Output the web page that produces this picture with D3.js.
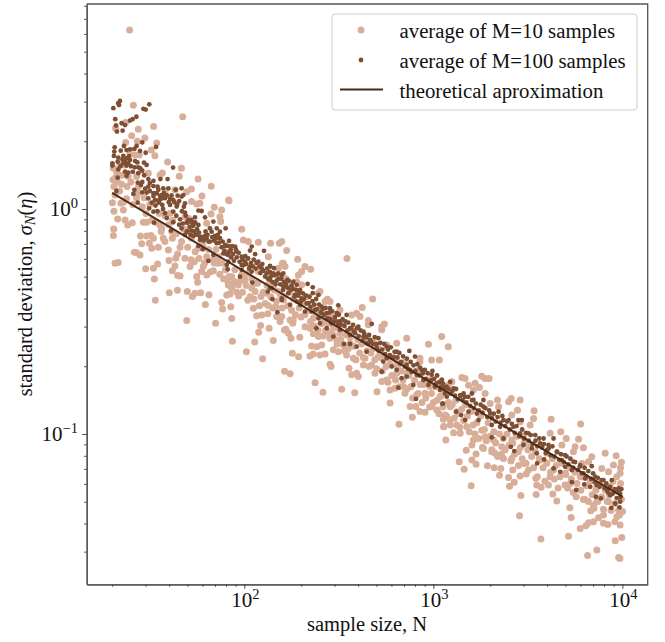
<!DOCTYPE html>
<html><head><meta charset="utf-8">
<script src="https://cdn.jsdelivr.net/npm/d3@7"></script>
<style>html,body{margin:0;padding:0;background:#fff}svg{display:block;font-family:"Liberation Serif",serif}</style>
</head><body><div id="c"></div>
<script>
// values, as [log10 N, log10 sigma]
const m10Points=[[1.393,.796],[1.413,.461],[1.674,.410],[1.520,.367],[1.439,.354],[1.319,.359],[1.372,.384],[1.404,.325],[1.474,.316],[1.372,.295],[1.434,.301],[1.536,.293],[1.508,.262],[1.527,.237],[1.395,.247],[1.422,.240],[1.444,.240],[1.594,.209],[1.667,.181],[1.342,.196],[1.307,.181],[1.325,.166],[1.369,.196],[1.386,.144],[1.351,.110],[1.430,.144],[1.656,.145],[1.566,.160],[1.554,.151],[1.492,.159],[1.755,.133],[1.825,.101],[1.720,.089],[1.695,.077],[1.776,.058],[1.917,.040],[1.633,.085],[1.580,.077],[1.439,.070],[1.316,.062],[1.377,.045],
[1.302,.028],[1.347,.025],[1.360,-.004],[1.330,-.044],[1.369,-.049],[1.383,-.071],[1.407,-.061],[1.466,-.059],[1.483,-.059],[1.309,-.089],[1.307,-.118],[1.450,-.120],[1.483,-.120],[1.506,-.118],[1.519,-.130],[1.457,-.155],[1.497,-.152],[1.510,-.175],[1.545,-.170],[1.571,-.130],[1.580,-.145],[1.619,-.130],[1.598,-.182],[1.418,-.192],[1.448,-.204],[1.430,-.194],[1.316,-.241],[1.333,-.238],[1.647,-.200],[1.637,-.219],[1.601,-.229],[1.541,-.244],[1.519,-.263],[1.478,-.266],[1.633,-.253],[1.619,-.274],[1.686,-.219],[1.718,-.226],[1.735,-.234],[1.713,-.256],[1.660,-.298],[1.647,-.296],[1.524,-.311],[1.783,-.256],[1.774,-.278],[1.748,-.300],[1.753,-.326],[1.801,-.293],[1.836,-.274],[1.859,-.241],[1.603,-.372],[1.646,-.361],[1.698,-.367],[1.739,-.375],[1.725,-.389],[1.769,-.372],[1.813,-.381],[1.529,-.406],[1.794,-.424],[1.880,-.416],[1.885,-.444],[1.928,-.435],[1.695,-.496],[1.848,-.508],[1.933,-.487],[1.937,-.588],[2.055,-.591],[2.153,-.585],[2.011,-.634],[2.097,-.666],[2.076,-.548],[2.086,-.518],[2.131,-.530],[2.212,-.538],[1.915,-.338],[1.933,-.352],[1.968,-.338],[1.907,-.382],[1.924,-.378],[1.970,-.387],[2.018,-.406],[2.048,-.441],[2.065,-.475],[2.092,-.471],[2.124,-.466],[2.127,-.429],[2.166,-.434],[2.171,-.478],[2.198,-.478],[2.189,-.500],[2.088,-.389],[2.057,-.367],[2.039,-.352],[2.004,-.315],[1.951,-.323],[1.986,-.293],[1.907,-.315],
[1.748,.022],[1.765,.025],[1.721,.033],[1.919,.037],[1.841,.008],[1.880,-.004],[1.824,-.022],[1.871,-.034],[1.875,-.056],[1.801,-.063],[1.986,-.090],[1.995,-.138],[2.021,-.145],[2.074,-.148],[2.139,-.152],[2.198,-.145],[2.206,-.241],[2.127,-.212],[1.686,-.034],[1.704,-.041],[1.607,-.019],[1.554,-.071],[1.563,-.086],[1.616,-.100],[1.668,-.145],[1.757,-.175],[1.801,-.212],[1.836,-.226],[1.863,-.212],[1.933,-.301],[2.021,-.286],[2.074,-.278],[2.057,-.330],[2.136,-.330],[2.118,-.375],[2.180,-.367],[2.206,-.404],
[2.543,-.220],[2.282,-.223],[2.224,-.185],[2.185,-.152],[2.201,-.241],[2.215,-.256],[2.180,-.263],[2.351,-.268],[2.321,-.256],[2.303,-.278],[2.286,-.293],[2.277,-.323],[2.679,-.400],[2.624,-.438],[2.439,-.401],[2.400,-.367],[2.427,-.411],[2.656,-.496],[2.741,-.511],[2.727,-.537],[2.859,-.574],[2.974,-.601],[3.044,-.567],[3.079,-.612],[3.032,-.671],[2.929,-.663],[2.806,-.597],[2.753,-.604],[2.612,-.478],[2.594,-.463],[2.568,-.471],
[2.242,-.493],[2.259,-.493],[2.256,-.508],[2.220,-.534],[2.233,-.552],[2.247,-.574],[2.293,-.570],[2.321,-.523],[2.347,-.530],[2.365,-.555],[2.392,-.567],[2.418,-.564],[2.453,-.574],[2.489,-.582],[2.356,-.609],[2.383,-.612],[2.409,-.604],[2.471,-.626],[2.497,-.634],[2.347,-.653],[2.365,-.644],[2.400,-.649],[2.427,-.644],[2.254,-.641],[2.287,-.657],[2.453,-.690],[2.459,-.700],[2.213,-.721],[2.242,-.732],[2.374,-.772],[2.416,-.815],[2.515,-.801],[2.584,-.817],[2.702,-.812],[2.554,-.708],[2.568,-.737],[2.594,-.730],[2.603,-.745],[2.630,-.693],[2.638,-.663],[2.674,-.693],[2.691,-.730],[2.727,-.767],[2.753,-.760],[2.771,-.804],[2.797,-.797],[2.841,-.789],[2.850,-.819],[2.771,-.862],[2.877,-.878],[2.907,-.878],[2.929,-.900],[2.956,-.903],[2.889,-.926],[2.818,-.957],[3.056,-.967],[3.053,-.934],[2.991,-.878],[3.018,-.893],[2.912,-.826],[2.956,-.819],[2.806,-.730],[2.541,-.649],[2.577,-.663],[2.524,-.604],[2.559,-.597],[2.506,-.552],[2.471,-.530],[2.444,-.508],[2.409,-.500],[2.365,-.486],[2.683,-.619],[2.709,-.656],[2.762,-.663],[2.806,-.678],[2.859,-.730],[2.929,-.730],[2.982,-.789],[3.035,-.834],[3.079,-.863],[3.079,-.782],[2.929,-.678],[2.991,-.671],[2.727,-.523],[2.656,-.515],[2.506,-.449],[2.453,-.411],[2.392,-.374],[2.303,-.337],
[3.256,-.743],[3.295,-.753],[3.151,-.749],[3.168,-.753],[3.274,-.753],[3.098,-.768],[3.186,-.783],[3.221,-.775],[3.244,-.793],[3.212,-.805],[3.274,-.820],[3.339,-.849],[3.301,-.864],[3.345,-.879],[3.412,-.842],[3.398,-.857],[3.459,-.849],[3.445,-.894],[3.533,-.897],[3.623,-.935],[3.779,-.956],[3.530,-.931],[3.512,-.960],[3.415,-.916],[3.459,-.946],[3.618,-.997],[3.674,-.990],[3.703,-1.020],[3.680,-1.049],[3.768,-1.023],[3.750,-1.057],[3.794,-1.061],[3.741,-1.079],[3.909,-1.086],[3.967,-1.097],[3.995,-1.126],[3.838,-1.101],[3.821,-1.123],[3.786,-1.131],[3.953,-1.138],[3.891,-1.153],[3.927,-1.168],[3.988,-1.175],[3.062,-.916],[3.054,-.968],[3.066,-1.027],[3.107,-.995],[3.142,-.997],[3.177,-.968],[3.089,-.938],[3.124,-.960],[3.256,-.983],[3.274,-1.012],[3.212,-1.027],[3.204,-1.049],[3.174,-1.072],[3.265,-1.064],[3.309,-1.079],[3.327,-1.086],[3.226,-1.089],[3.204,-1.116],[3.226,-1.135],[3.137,-1.123],[3.163,-1.157],[3.200,-1.230],[3.286,-1.141],[3.322,-1.150],[3.357,-1.153],[3.371,-1.109],[3.415,-1.109],[3.450,-1.079],[3.420,-1.160],[3.350,-1.183],[3.398,-1.193],[3.403,-1.232],[3.428,-1.215],[3.459,-1.187],[3.491,-1.178],[3.503,-1.160],[3.542,-1.197],[3.547,-1.227],[3.570,-1.237],[3.609,-1.227],[3.618,-1.190],[3.544,-1.269],[3.463,-1.273],[3.632,-1.267],[3.653,-1.298],[3.697,-1.227],[3.724,-1.220],[3.756,-1.279],[3.794,-1.291],[3.865,-1.301],[3.847,-1.316],[3.833,-1.341],[3.900,-1.335],[3.927,-1.301],[4.001,-1.344],[3.722,-1.328],[3.729,-1.371],[3.971,-1.368],[3.456,-1.363],[3.874,-1.372],[3.821,-1.395],[3.847,-1.390],[3.807,-1.408],[3.777,-1.420],[3.900,-1.397],[3.923,-1.402],[3.988,-1.405],[3.715,-1.454],[3.569,-1.467],[3.962,-1.475],[3.997,-1.460],[3.865,-1.516],[3.816,-1.540],[3.980,-1.549],[3.987,-1.553],[3.477,-1.131],[3.565,-1.116],[3.636,-1.160],[3.697,-1.175],[3.777,-1.190],[3.865,-1.235],[3.935,-1.235],[3.089,-.879],[3.124,-.901],[3.415,-1.027],[3.318,-1.027],[3.362,-1.057],[3.512,-1.057],[3.600,-1.086],[3.477,-1.012]];

// the crowded part of the M=10 cloud, where single points can only be estimated
const m10Crowd=[[1.31,.10],[1.32,.14],[1.34,.08],[1.35,.15],[1.36,.03],[1.38,.10],[1.40,.12],[1.41,.02],[1.43,.05],[1.44,.10],[1.46,.01],[1.47,.05],[1.48,-.02],[1.50,.02],[1.51,-.05],[1.53,.03],[1.535,-.06],[1.55,-.02],[1.56,-.10],[1.58,-.03],[1.60,-.07],[1.33,.12],[1.305,.13],[1.31,-.01],
[1.62,-.05],[1.64,-.11],[1.66,-.17],[1.68,-.09],[1.70,-.17],[1.72,-.13],[1.74,-.19],[1.76,-.22],[1.78,-.16],[1.79,-.24],[1.81,-.18],[1.82,-.28],[1.84,-.24],[1.85,-.18],[1.87,-.29],[1.88,-.24],[1.89,-.31],[1.90,-.27],[1.92,-.30],[1.94,-.33],[1.95,-.27],[1.96,-.37],[1.98,-.32],[1.99,-.37],[2.00,-.29],[2.01,-.34],[2.03,-.39],[2.04,-.31],[2.05,-.40],[2.07,-.33],[2.08,-.43],[2.10,-.37],[2.11,-.42],[2.12,-.34],[2.14,-.39],[2.15,-.44],[2.16,-.36],[2.17,-.41],[2.19,-.38],[2.20,-.44],[2.21,-.39],[2.22,-.31],[2.23,-.43],[2.24,-.37],[2.25,-.45],[2.26,-.40],[2.27,-.47],[2.28,-.38],[2.29,-.44],[2.30,-.48],[2.31,-.42],[2.32,-.47],[2.33,-.39],[2.34,-.45],[2.35,-.50],[2.36,-.44],[2.37,-.52],[2.38,-.47],[2.39,-.54],[2.40,-.45],[2.41,-.51],[2.42,-.47],[2.43,-.54],[2.44,-.49],[2.45,-.55],[2.46,-.48],[2.47,-.56],[2.48,-.51],[2.49,-.60],[2.50,-.53],[2.51,-.58],[2.52,-.50],[2.53,-.63],[2.54,-.56],[2.55,-.62],[2.56,-.57],[2.57,-.54],[2.58,-.61],[2.59,-.67],[2.60,-.58],[2.61,-.64],[2.62,-.60],[2.63,-.66],[2.64,-.58],[2.65,-.63],[2.66,-.70],[2.67,-.64],[2.68,-.59],[2.69,-.67],[2.70,-.71],[2.71,-.62],[2.72,-.66],[2.73,-.72],[2.74,-.65],[2.75,-.70],[2.76,-.77],[2.77,-.69],[2.78,-.74],[2.79,-.66],[2.80,-.76],[2.81,-.70],[2.82,-.79],[2.83,-.72],[2.84,-.76],[2.85,-.68],[2.86,-.80],[2.87,-.74],[2.88,-.79],[2.89,-.84],[2.90,-.76],[2.91,-.72],[2.92,-.82],[2.93,-.78],[2.94,-.86],[2.95,-.78],[2.96,-.84],[2.97,-.76],[2.98,-.88],[2.99,-.82],[3.00,-.86],[3.01,-.79],[3.02,-.85],[3.03,-.91],[3.04,-.83],[3.05,-.88],[3.06,-.81],[3.07,-.92],[3.08,-.86],[3.09,-.96],[3.10,-.87],[3.11,-.93],[3.12,-.85],[3.13,-.91],[3.14,-.97],[3.15,-.89],[3.16,-.94],[3.17,-.87],[3.18,-.92],[3.19,-.99],[3.20,-.90],[3.21,-.96],[3.22,-1.00],[3.23,-.95],[3.24,-1.02],[3.25,-.92],[3.26,-1.06],[3.27,-.98],[3.28,-1.03],[3.29,-.95],[3.30,-1.01],[3.31,-1.07],[3.32,-.99],[3.33,-1.04],[3.34,-1.10],[3.35,-1.00],[3.36,-1.09],[3.37,-1.02],[3.38,-1.07],[3.39,-1.00],[3.40,-1.05],[3.41,-1.12],[3.42,-1.04],[3.43,-1.09],[3.44,-1.01],[3.45,-1.14],[3.46,-1.06],[3.47,-1.11],[3.48,-1.04],[3.49,-1.13],[3.50,-1.07],[3.52,-1.10],[3.53,-1.15],[3.54,-1.08],[3.55,-1.19],[3.56,-1.11],[3.58,-1.15],[3.59,-1.21],[3.60,-1.13],[3.62,-1.17],[3.63,-1.11],[3.64,-1.20],[3.65,-1.14],[3.66,-1.24],[3.67,-1.19],[3.68,-1.13],[3.70,-1.18],[3.71,-1.24],[3.72,-1.15],[3.73,-1.20],[3.74,-1.26],[3.75,-1.17],[3.76,-1.22],[3.78,-1.25],[3.79,-1.19],[3.80,-1.29],[3.81,-1.23],[3.82,-1.30],[3.83,-1.21],[3.84,-1.27],[3.85,-1.33],[3.86,-1.25],[3.87,-1.30],[3.88,-1.22],[3.89,-1.28],[3.90,-1.36],[3.91,-1.25],[3.92,-1.30],[3.93,-1.27],[3.94,-1.34],[3.95,-1.21],[3.96,-1.31],[3.97,-1.19],[3.98,-1.34],[3.99,-1.22],[3.96,-1.39],[3.985,-1.36],[3.995,-1.29],[3.99,-1.15]];

const m100Points=[[1.342,.480],[1.337,.462],[1.333,.470],[1.307,.448],[1.497,.465],[1.466,.445],[1.478,.442],[1.317,.399],[1.429,.410],[1.409,.399],[1.395,.393],[1.351,.381],[1.369,.373],[1.321,.371],[1.326,.344],[1.356,.348],[1.460,.296],[1.363,.280],[1.314,.274],[1.430,.280],[1.533,.276],[1.312,.255],[1.346,.259],[1.377,.262],[1.395,.265],[1.418,.267],[1.448,.258],[1.478,.250],[1.310,.236],[1.333,.228],[1.360,.236],[1.377,.225],[1.395,.218],[1.386,.203],[1.360,.203],[1.302,.203],[1.302,.193],[1.377,.193],[1.422,.213],[1.434,.207],[1.469,.206],[1.483,.196],[1.623,.184],[1.333,.176],[1.439,.185],[1.369,.166],[1.386,.162],[1.460,.170],[1.439,.159],[1.377,.147],[1.330,.139],[1.492,.133],[1.556,.133],[1.594,.133],[1.519,.125],[1.436,.117],[1.453,.107],[1.492,.099],[1.519,.102],[1.541,.099],[1.571,.092],[1.598,.092],[1.637,.085],[1.668,.092],[1.418,.085],[1.413,.067],[1.460,.074],[1.483,.073],[1.536,.070],[1.554,.058],[1.607,.045],[1.677,.062],[1.647,.059],[1.492,.047],[1.323,.080],
[1.519,.058],[1.563,.062],[1.527,.040],[1.510,.028],[1.549,.028],[1.580,.048],[1.624,.040],[1.668,.055],[1.686,.025],[1.436,.028],[1.566,.018],[1.607,.018],[1.642,.011],[1.496,.003],[1.519,-.012],[1.580,-.019],[1.624,-.012],[1.686,-.016],[1.757,-.007],[1.774,-.009],[1.660,-.046],[1.624,-.059],[1.522,-.061],[1.739,-.037],[1.704,-.049],[1.725,-.063],[1.792,-.037],[1.836,-.056],[1.757,-.071],[1.668,-.086],[1.612,-.096],[1.695,-.101],[1.721,-.096],[1.818,-.086],[1.854,-.086],[1.901,-.086],[1.827,-.101],[1.871,-.101],[1.686,-.115],[1.765,-.123],[1.792,-.120],[1.845,-.120],[1.871,-.130],[1.919,-.142],[1.765,-.138],[1.818,-.145],[1.854,-.152],[1.757,-.164],[1.780,-.179],[1.898,-.164],[1.951,-.167],[2.039,-.167],[2.030,-.185],[1.928,-.182],[1.889,-.197],[1.915,-.204],[1.959,-.189],[2.104,-.186],[2.057,-.201],[1.986,-.212],[1.810,-.231],[1.915,-.234],[2.004,-.234],[2.074,-.234],[2.136,-.253],[2.030,-.256],[2.092,-.264],[1.907,-.249],[1.836,-.204],[1.912,-.268],[1.986,-.271],[2.039,-.278],[2.153,-.286],[2.198,-.293],[2.136,-.315],[1.977,-.301],[1.986,-.249],[2.118,-.286],[2.171,-.318],[2.124,-.367],[2.145,-.352],[2.198,-.404],[2.042,-.327],[2.175,-.459],[2.206,-.345],
[2.148,-.401],[2.136,-.256],[2.157,-.263],[2.180,-.286],[2.206,-.286],[2.228,-.315],[2.259,-.323],[2.277,-.337],[2.335,-.333],[2.362,-.348],[2.362,-.374],[2.392,-.382],[2.295,-.360],[2.215,-.345],[2.233,-.374],[2.198,-.397],[2.268,-.382],[2.303,-.397],[2.242,-.426],[2.295,-.426],[2.339,-.419],[2.374,-.449],[2.321,-.456],[2.409,-.434],[2.453,-.441],[2.497,-.428],[2.541,-.471],[2.489,-.463],[2.436,-.463],[2.392,-.486],[2.381,-.530],[2.436,-.530],[2.497,-.515],[2.471,-.567],[2.506,-.500],[2.603,-.523],[2.630,-.545],[2.674,-.511],[2.559,-.530],[2.586,-.552],[2.527,-.600],[2.559,-.600],[2.594,-.612],[2.647,-.634],[2.665,-.582],[2.709,-.574],[2.753,-.612],[2.806,-.634],[2.873,-.631],[2.903,-.656],[2.735,-.678],[2.727,-.723],[2.780,-.700],[2.824,-.686],[2.859,-.693],[2.832,-.752],[2.894,-.782],[2.815,-.794],[2.908,-.844],[2.938,-.715],[2.991,-.737],[3.044,-.760],[2.974,-.782],[3.035,-.804],[3.071,-.834],[3.048,-.866],[2.771,-.656],[2.700,-.619],[2.630,-.567],[2.559,-.560],[2.506,-.537],[2.647,-.597],[2.877,-.715],[2.912,-.737],[2.859,-.745],[2.947,-.760],[3.009,-.789],[2.753,-.663],[2.806,-.715],[2.356,-.456],[2.400,-.508],[2.462,-.508],[2.136,-.352],[2.277,-.411],
[3.045,-.760],[3.089,-.768],[3.054,-.790],[3.062,-.820],[3.050,-.864],[3.107,-.797],[3.142,-.827],[3.121,-.901],[3.168,-.835],[3.204,-.820],[3.265,-.849],[3.212,-.849],[3.186,-.901],[3.147,-.916],[3.168,-.938],[3.230,-.909],[3.239,-.938],[3.265,-.879],[3.301,-.909],[3.345,-.901],[3.371,-.938],[3.309,-.960],[3.353,-.968],[3.450,-.938],[3.468,-.938],[3.398,-.938],[3.424,-.968],[3.309,-1.015],[3.371,-1.020],[3.459,-.997],[3.503,-.997],[3.539,-1.005],[3.583,-1.020],[3.636,-1.020],[3.410,-1.057],[3.428,-1.076],[3.477,-1.049],[3.521,-1.064],[3.565,-1.042],[3.609,-1.049],[3.547,-1.086],[3.600,-1.072],[3.653,-1.079],[3.697,-1.094],[3.680,-1.116],[3.741,-1.123],[3.586,-1.113],[3.549,-1.131],[3.636,-1.153],[3.697,-1.146],[3.733,-1.160],[3.671,-1.168],[3.777,-1.138],[3.838,-1.143],[3.794,-1.175],[3.733,-1.214],[3.803,-1.198],[3.856,-1.190],[3.900,-1.205],[3.944,-1.205],[3.798,-1.224],[3.830,-1.235],[3.756,-1.249],[3.865,-1.227],[3.918,-1.249],[3.980,-1.242],[3.860,-1.279],[3.886,-1.286],[3.936,-1.272],[3.988,-1.264],[3.962,-1.309],[3.941,-1.328],[3.985,-1.326],[3.988,-1.301]];

// the crowded part of the M=100 band, where single points can only be estimated
const m100Crowd=[[1.33,.21],[1.345,.19],[1.355,.22],[1.37,.21],[1.39,.235],[1.40,.19],[1.41,.165],[1.42,.185],[1.45,.18],[1.47,.15],[1.50,.115],[1.46,.12],[1.475,.09],[1.50,.08],[1.52,.07],[1.545,.085],[1.56,.045],[1.575,.07],[1.59,.06],[1.60,.03],[1.615,.06],[1.63,.03],[1.645,.02],[1.655,.035],[1.67,-.01],[1.68,.01],[1.69,-.03],[1.695,-.06],[1.55,.04],[1.53,.015],[1.54,-.01],[1.57,.0],[1.59,-.04],[1.64,-.03],[1.655,-.07],[1.675,-.065],
[1.70,-.06],[1.71,-.08],[1.72,-.05],[1.73,-.075],[1.735,-.10],[1.74,-.06],[1.75,-.09],[1.745,-.115],[1.70,-.10],[1.715,-.115],[1.73,-.12],[1.76,-.105],[1.775,-.125],[1.785,-.14],[1.80,-.13],[1.81,-.145],[1.795,-.10],[1.805,-.115],[1.83,-.125],[1.84,-.14],[1.85,-.13],[1.86,-.115],[1.865,-.15],[1.88,-.17],[1.885,-.145],[1.895,-.185],[1.90,-.16],[1.905,-.20],[1.915,-.165],[1.92,-.19],[1.93,-.215],[1.935,-.165],[1.94,-.20],[1.945,-.23],[1.955,-.18],[1.96,-.215],[1.97,-.195],[1.975,-.235],[1.99,-.225],[1.995,-.25],[2.005,-.21],[2.01,-.245],[2.02,-.22],[2.025,-.265],[2.035,-.24],[2.045,-.255],[2.05,-.225],[2.06,-.265],[2.065,-.24],[2.08,-.255],[2.085,-.285],[2.095,-.245],[2.10,-.275],[2.11,-.30],[2.12,-.265],[2.125,-.31],[2.135,-.28],[2.14,-.30],[2.15,-.325],[2.16,-.295],[2.165,-.335],[2.175,-.29],[2.18,-.31],[2.19,-.335],[2.195,-.31],[2.205,-.36],[2.21,-.325],[2.22,-.335],[2.23,-.35],[2.235,-.32],[2.245,-.36],[2.25,-.34],[2.26,-.355],[2.265,-.39],[2.275,-.36],[2.285,-.385],[2.29,-.37],[2.30,-.41],[2.31,-.375],[2.315,-.40],[2.325,-.385],[2.33,-.42],[2.345,-.39],[2.35,-.435],[2.36,-.41],[2.37,-.425],[2.38,-.40],[2.385,-.445],[2.395,-.425],[2.405,-.46],[2.415,-.445],[2.42,-.47],[2.43,-.44],[2.44,-.485],[2.45,-.46],[2.455,-.49],[2.465,-.455],[2.475,-.50],[2.48,-.48],[2.49,-.50],[2.50,-.47],[2.51,-.515],[2.52,-.49],[2.53,-.52],[2.535,-.50],[2.545,-.54],[2.55,-.505],[2.565,-.53],[2.575,-.515],[2.58,-.545],[2.595,-.53],[2.605,-.565],[2.615,-.54],[2.625,-.585],[2.635,-.555],[2.645,-.57],[2.655,-.60],[2.66,-.56],[2.67,-.59],[2.68,-.60],[2.69,-.57],[2.70,-.60],[2.71,-.63],[2.72,-.595],[2.73,-.625],[2.74,-.60],[2.745,-.645],[2.76,-.625],[2.77,-.65],[2.775,-.615],[2.79,-.66],[2.795,-.635],[2.81,-.66],[2.82,-.64],[2.83,-.68],[2.84,-.655],[2.85,-.70],[2.86,-.665],[2.865,-.71],[2.88,-.68],[2.885,-.725],[2.895,-.695],[2.905,-.72],[2.915,-.69],[2.925,-.74],[2.93,-.705],[2.945,-.73],[2.955,-.715],[2.96,-.755],[2.97,-.73],[2.98,-.765],[2.99,-.76],[2.995,-.72],[3.005,-.755],[3.015,-.775],[3.02,-.74],[3.03,-.77],[3.04,-.79],[3.05,-.775],[3.06,-.795],[3.07,-.79],[3.08,-.80],[3.09,-.82],[3.10,-.81],[3.115,-.83],[3.12,-.80],[3.13,-.845],[3.145,-.83],[3.155,-.85],[3.16,-.82],[3.175,-.86],[3.185,-.835],[3.195,-.875],[3.205,-.85],[3.215,-.885],[3.225,-.865],[3.24,-.895],[3.25,-.87],[3.26,-.905],[3.275,-.885],[3.285,-.925],[3.295,-.895],[3.31,-.93],[3.32,-.91],[3.33,-.945],[3.34,-.925],[3.355,-.95],[3.365,-.92],[3.38,-.965],[3.39,-.945],[3.405,-.98],[3.415,-.955],[3.43,-.995],[3.44,-.965],[3.455,-1.01],[3.47,-.98],[3.48,-1.02],[3.49,-.995],[3.505,-1.03],[3.515,-1.005],[3.525,-1.045],[3.54,-1.03],[3.55,-1.055],[3.56,-1.02],[3.575,-1.06],[3.585,-1.045],[3.595,-1.085],[3.61,-1.065],[3.62,-1.095],[3.63,-1.055],[3.64,-1.10],[3.655,-1.08],[3.665,-1.115],[3.675,-1.09],[3.69,-1.125],[3.705,-1.10],[3.715,-1.135],[3.725,-1.11],[3.74,-1.15],[3.75,-1.125],[3.765,-1.16],[3.775,-1.145],[3.785,-1.175],[3.80,-1.15],[3.81,-1.19],[3.82,-1.165],[3.835,-1.20],[3.845,-1.175],[3.855,-1.215],[3.87,-1.195],[3.88,-1.235],[3.89,-1.205],[3.905,-1.24],[3.915,-1.22],[3.925,-1.26],[3.935,-1.235],[3.95,-1.265],[3.96,-1.245],[3.97,-1.285],[3.975,-1.255],[3.99,-1.28],[3.995,-1.245]];

const theoryN=[20,100,1000,10000];
const theorySigma=[1.18,0.528,0.167,0.0527];
const xMajor=[100,1000,10000];
const xMinor=[20,30,40,50,60,70,80,90,200,300,400,500,600,700,800,900,2000,3000,4000,5000,6000,7000,8000,9000];
const yMajor=[1,0.1];
const yMinor=[8,7,6,5,4,3,2,.9,.8,.7,.6,.5,.4,.3,.2,.09,.08,.07,.06,.05,.04,.03];
const legendLabels=["average of M=10 samples","average of M=100 samples","theoretical aproximation"];
const lightColor="#d9ae98",darkColor="#7f4f33",lineColor="#4a2a1b",spine="#555";

const W=665,H=642;
const svg=d3.select("#c").append("svg").attr("width",W).attr("height",H);
const x=d3.scaleLog().domain([10**1.166,10**4.134]).range([86.7,647.7]);
const y=d3.scaleLog().domain([10**-1.668,10**.911]).range([584.3,4]);

svg.append("g").selectAll("circle").data(m10Points.concat(m10Crowd)).join("circle")
 .attr("cx",d=>x(10**d[0])).attr("cy",d=>y(10**d[1])).attr("r",3.5).attr("fill",lightColor);
svg.append("g").selectAll("circle").data(m100Points.concat(m100Crowd)).join("circle")
 .attr("cx",d=>x(10**d[0])).attr("cy",d=>y(10**d[1])).attr("r",2.4).attr("fill",darkColor);
svg.append("path").datum(theoryN.map((n,i)=>[n,theorySigma[i]]))
 .attr("d",d3.line().x(d=>x(d[0])).y(d=>y(d[1]))).attr("fill","none").attr("stroke",lineColor).attr("stroke-width",1.9);

function styleAxis(g){g.selectAll("path").attr("stroke",spine).attr("stroke-width",1.3);g.selectAll("line").attr("stroke","#333").attr("stroke-width",.9);}
svg.append("g").attr("transform",`translate(0,${584.3})`).call(d3.axisBottom(x).tickValues(xMinor).tickSize(2.5).tickFormat("").tickSizeOuter(0)).call(styleAxis);
svg.append("g").attr("transform",`translate(0,${584.3})`).call(d3.axisBottom(x).tickValues(xMajor).tickSize(4.5).tickFormat("").tickSizeOuter(0)).call(styleAxis);
svg.append("g").attr("transform",`translate(86.7,0)`).call(d3.axisLeft(y).tickValues(yMinor).tickSize(2.5).tickFormat("").tickSizeOuter(0)).call(styleAxis);
svg.append("g").attr("transform",`translate(86.7,0)`).call(d3.axisLeft(y).tickValues(yMajor).tickSize(4.5).tickFormat("").tickSizeOuter(0)).call(styleAxis);
svg.append("path").attr("d","M86.7,4H647.7V584.3").attr("fill","none").attr("stroke",spine).attr("stroke-width",1.3);

const fs=21;
function pow(sel,exp){sel.append("tspan").text("10");sel.append("tspan").attr("dy",-8).attr("font-size",14.5).text(exp);}
xMajor.forEach(v=>{const t=svg.append("text").attr("x",x(v)+1).attr("y",607).attr("text-anchor","middle").attr("font-size",fs).attr("fill","#111");pow(t,Math.round(Math.log10(v)));});
yMajor.forEach(v=>{const e=Math.round(Math.log10(v));const t=svg.append("text").attr("x",78).attr("y",y(v)+7).attr("text-anchor","end").attr("font-size",fs).attr("fill","#111");pow(t,e<0?"\u2212"+(-e):e);});

svg.append("text").attr("x",367).attr("y",631).attr("text-anchor","middle").attr("font-size",20.5).attr("fill","#111").text("sample size, N");
const yl=svg.append("text").attr("transform","translate(32,294) rotate(-90)").attr("text-anchor","middle").attr("font-size",20.5).attr("fill","#111");
yl.append("tspan").text("standard deviation, ");
yl.append("tspan").attr("font-style","italic").text("\u03c3");
yl.append("tspan").attr("font-style","italic").attr("font-size",14.5).attr("dy",3).text("N");
yl.append("tspan").attr("dy",-3).text("(");
yl.append("tspan").attr("font-style","italic").text("\u03b7");
yl.append("tspan").text(")");

const lg=svg.append("g");
lg.append("rect").attr("x",332).attr("y",14).attr("width",305).attr("height",96).attr("rx",3).attr("fill","#fff").attr("fill-opacity",.8).attr("stroke","#ccc").attr("stroke-width",1);
lg.append("circle").attr("cx",361).attr("cy",30).attr("r",3.5).attr("fill",lightColor);
lg.append("circle").attr("cx",361).attr("cy",60).attr("r",2.4).attr("fill",darkColor);
lg.append("line").attr("x1",340).attr("x2",383).attr("y1",89.5).attr("y2",89.5).attr("stroke",lineColor).attr("stroke-width",1.9);
legendLabels.forEach((s,i)=>lg.append("text").attr("x",399.5).attr("y",37.5+30*i).attr("font-size",20.8).attr("fill","#111").text(s));
</script></body></html>
